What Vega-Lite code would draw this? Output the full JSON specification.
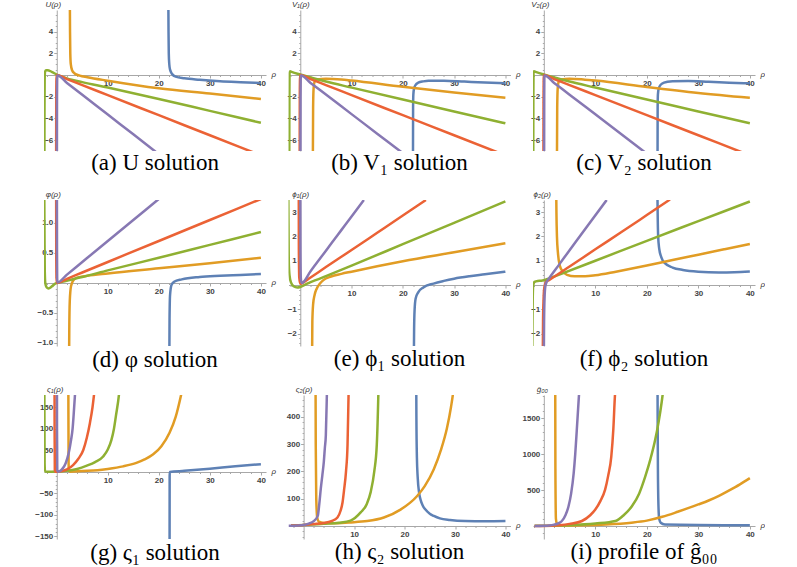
{
"$schema":"https://vega.github.io/schema/vega-lite/v6.json",
"background":"white",
"padding":{"left":34,"top":0,"right":0,"bottom":0},
"datasets":{
"a":[
{"s":"b","x":21.85,"y":8},{"s":"b","x":21.9,"y":4},{"s":"b","x":21.95,"y":2},{"s":"b","x":22.05,"y":1},{"s":"b","x":22.2,"y":0.5},{"s":"b","x":22.6,"y":0.1},{"s":"b","x":23.3,"y":-0.15},{"s":"b","x":25,"y":-0.3},{"s":"b","x":28,"y":-0.43},{"s":"b","x":32,"y":-0.56},{"s":"b","x":36,"y":-0.65},{"s":"b","x":40,"y":-0.73},
{"s":"o","x":2.55,"y":8},{"s":"o","x":2.6,"y":4},{"s":"o","x":2.65,"y":2},{"s":"o","x":2.75,"y":1},{"s":"o","x":3,"y":0.45},{"s":"o","x":3.5,"y":0.15},{"s":"o","x":4.5,"y":-0.05},{"s":"o","x":6,"y":-0.2},{"s":"o","x":10,"y":-0.52},{"s":"o","x":20,"y":-1.22},{"s":"o","x":30,"y":-1.7},{"s":"o","x":40,"y":-2.2},
{"s":"g","x":-2.42,"y":-8},{"s":"g","x":-2.4,"y":-3},{"s":"g","x":-2.37,"y":-0.5},{"s":"g","x":-2.3,"y":0.3},{"s":"g","x":-2.1,"y":0.45},{"s":"g","x":-1.8,"y":0.45},{"s":"g","x":-1,"y":0.3},{"s":"g","x":0,"y":0.05},{"s":"g","x":2,"y":-0.3},{"s":"g","x":5,"y":-0.65},{"s":"g","x":10,"y":-1.15},{"s":"g","x":20,"y":-2.2},{"s":"g","x":30,"y":-3.3},{"s":"g","x":40,"y":-4.4},
{"s":"r","x":-0.12,"y":-8},{"s":"r","x":-0.1,"y":-2},{"s":"r","x":-0.05,"y":-0.3},{"s":"r","x":0.05,"y":0},{"s":"r","x":2,"y":-0.37},{"s":"r","x":5,"y":-0.92},{"s":"r","x":10,"y":-1.85},{"s":"r","x":20,"y":-3.7},{"s":"r","x":30,"y":-5.55},{"s":"r","x":40,"y":-7.4},
{"s":"p","x":0.03,"y":-8},{"s":"p","x":0.05,"y":-2},{"s":"p","x":0.08,"y":-0.3},{"s":"p","x":0.15,"y":-0.05},{"s":"p","x":2,"y":-0.72},{"s":"p","x":5,"y":-1.81},{"s":"p","x":10,"y":-3.64},{"s":"p","x":15,"y":-5.46},{"s":"p","x":20,"y":-7.3}
],
"b":[
{"s":"b","x":21.98,"y":-8},{"s":"b","x":22.0,"y":-3},{"s":"b","x":22.05,"y":-1.8},{"s":"b","x":22.2,"y":-1.2},{"s":"b","x":22.5,"y":-0.9},{"s":"b","x":23,"y":-0.7},{"s":"b","x":24,"y":-0.58},{"s":"b","x":25,"y":-0.52},{"s":"b","x":28,"y":-0.52},{"s":"b","x":32,"y":-0.6},{"s":"b","x":36,"y":-0.68},{"s":"b","x":40,"y":-0.75},
{"s":"o","x":2.45,"y":-8},{"s":"o","x":2.5,"y":-3},{"s":"o","x":2.6,"y":-1.2},{"s":"o","x":2.8,"y":-0.6},{"s":"o","x":3.3,"y":-0.4},{"s":"o","x":5,"y":-0.33},{"s":"o","x":8,"y":-0.4},{"s":"o","x":10,"y":-0.5},{"s":"o","x":20,"y":-1.08},{"s":"o","x":30,"y":-1.6},{"s":"o","x":40,"y":-2.08},
{"s":"g","x":-2.15,"y":-8},{"s":"g","x":-2.13,"y":-2},{"s":"g","x":-2.1,"y":0.2},{"s":"g","x":-2.0,"y":0.35},{"s":"g","x":-1.7,"y":0.3},{"s":"g","x":0,"y":0.05},{"s":"g","x":5,"y":-0.6},{"s":"g","x":10,"y":-1.15},{"s":"g","x":20,"y":-2.25},{"s":"g","x":30,"y":-3.35},{"s":"g","x":40,"y":-4.45},
{"s":"r","x":-0.12,"y":-8},{"s":"r","x":-0.1,"y":-2},{"s":"r","x":-0.05,"y":-0.3},{"s":"r","x":0.05,"y":0},{"s":"r","x":2,"y":-0.37},{"s":"r","x":5,"y":-0.92},{"s":"r","x":10,"y":-1.85},{"s":"r","x":20,"y":-3.7},{"s":"r","x":30,"y":-5.55},{"s":"r","x":40,"y":-7.4},
{"s":"p","x":0.03,"y":-8},{"s":"p","x":0.05,"y":-2},{"s":"p","x":0.08,"y":-0.3},{"s":"p","x":0.15,"y":-0.05},{"s":"p","x":2,"y":-0.72},{"s":"p","x":5,"y":-1.8},{"s":"p","x":10,"y":-3.6},{"s":"p","x":15,"y":-5.4},{"s":"p","x":20,"y":-7.2}
],
"c":[
{"s":"b","x":22.08,"y":-8},{"s":"b","x":22.1,"y":-3},{"s":"b","x":22.15,"y":-1.8},{"s":"b","x":22.3,"y":-1.25},{"s":"b","x":22.6,"y":-0.95},{"s":"b","x":23,"y":-0.78},{"s":"b","x":24,"y":-0.62},{"s":"b","x":25,"y":-0.56},{"s":"b","x":28,"y":-0.55},{"s":"b","x":32,"y":-0.62},{"s":"b","x":36,"y":-0.7},{"s":"b","x":40,"y":-0.76},
{"s":"o","x":2.55,"y":-8},{"s":"o","x":2.6,"y":-3},{"s":"o","x":2.7,"y":-1.2},{"s":"o","x":2.9,"y":-0.6},{"s":"o","x":3.4,"y":-0.4},{"s":"o","x":5,"y":-0.33},{"s":"o","x":8,"y":-0.42},{"s":"o","x":10,"y":-0.5},{"s":"o","x":20,"y":-1.1},{"s":"o","x":30,"y":-1.65},{"s":"o","x":40,"y":-2.1},
{"s":"g","x":-2.05,"y":-8},{"s":"g","x":-2.03,"y":-2},{"s":"g","x":-2.0,"y":0.2},{"s":"g","x":-1.9,"y":0.35},{"s":"g","x":-1.6,"y":0.3},{"s":"g","x":0,"y":0.05},{"s":"g","x":5,"y":-0.6},{"s":"g","x":10,"y":-1.15},{"s":"g","x":20,"y":-2.25},{"s":"g","x":30,"y":-3.35},{"s":"g","x":40,"y":-4.45},
{"s":"r","x":-0.07,"y":-8},{"s":"r","x":-0.05,"y":-2},{"s":"r","x":-0.02,"y":-0.3},{"s":"r","x":0.05,"y":0},{"s":"r","x":2,"y":-0.37},{"s":"r","x":5,"y":-0.92},{"s":"r","x":10,"y":-1.85},{"s":"r","x":20,"y":-3.7},{"s":"r","x":30,"y":-5.55},{"s":"r","x":40,"y":-7.4},
{"s":"p","x":0.06,"y":-8},{"s":"p","x":0.08,"y":-2},{"s":"p","x":0.1,"y":-0.3},{"s":"p","x":0.15,"y":-0.05},{"s":"p","x":2,"y":-0.72},{"s":"p","x":5,"y":-1.81},{"s":"p","x":10,"y":-3.62},{"s":"p","x":15,"y":-5.43},{"s":"p","x":20,"y":-7.25}
],
"d":[
{"s":"b","x":22.05,"y":-1.5},{"s":"b","x":22.1,"y":-0.6},{"s":"b","x":22.2,"y":-0.2},{"s":"b","x":22.5,"y":-0.03},{"s":"b","x":23,"y":0.02},{"s":"b","x":24.5,"y":0.06},{"s":"b","x":28,"y":0.1},{"s":"b","x":32,"y":0.12},{"s":"b","x":36,"y":0.135},{"s":"b","x":40,"y":0.15},
{"s":"o","x":2.4,"y":-1.5},{"s":"o","x":2.45,"y":-0.8},{"s":"o","x":2.55,"y":-0.3},{"s":"o","x":2.8,"y":-0.05},{"s":"o","x":3.3,"y":0.05},{"s":"o","x":4,"y":0.09},{"s":"o","x":6,"y":0.12},{"s":"o","x":10,"y":0.16},{"s":"o","x":20,"y":0.245},{"s":"o","x":30,"y":0.33},{"s":"o","x":40,"y":0.42},
{"s":"g","x":-2.45,"y":1.6},{"s":"g","x":-2.4,"y":0.8},{"s":"g","x":-2.35,"y":0.2},{"s":"g","x":-2.25,"y":0},{"s":"g","x":-2.0,"y":-0.07},{"s":"g","x":-1.6,"y":-0.09},{"s":"g","x":-1.0,"y":-0.06},{"s":"g","x":-0.3,"y":-0.01},{"s":"g","x":0,"y":0},{"s":"g","x":1,"y":0.02},{"s":"g","x":5,"y":0.1},{"s":"g","x":10,"y":0.21},{"s":"g","x":20,"y":0.42},{"s":"g","x":30,"y":0.635},{"s":"g","x":40,"y":0.85},
{"s":"r","x":-0.12,"y":1.6},{"s":"r","x":-0.1,"y":0.5},{"s":"r","x":-0.05,"y":0.08},{"s":"r","x":0.05,"y":0},{"s":"r","x":2,"y":0.07},{"s":"r","x":5,"y":0.175},{"s":"r","x":10,"y":0.35},{"s":"r","x":20,"y":0.7},{"s":"r","x":30,"y":1.05},{"s":"r","x":40,"y":1.4},
{"s":"p","x":0.03,"y":1.6},{"s":"p","x":0.05,"y":0.5},{"s":"p","x":0.08,"y":0.08},{"s":"p","x":0.15,"y":0.01},{"s":"p","x":2,"y":0.14},{"s":"p","x":5,"y":0.35},{"s":"p","x":10,"y":0.7},{"s":"p","x":15,"y":1.05},{"s":"p","x":20,"y":1.4}
],
"e":[
{"s":"b","x":22.15,"y":-3},{"s":"b","x":22.2,"y":-1.8},{"s":"b","x":22.3,"y":-1.0},{"s":"b","x":22.5,"y":-0.55},{"s":"b","x":23,"y":-0.3},{"s":"b","x":24,"y":-0.1},{"s":"b","x":26,"y":0.06},{"s":"b","x":28,"y":0.17},{"s":"b","x":30,"y":0.26},{"s":"b","x":33,"y":0.36},{"s":"b","x":36,"y":0.44},{"s":"b","x":40,"y":0.55},
{"s":"o","x":2.3,"y":-3},{"s":"o","x":2.35,"y":-1.5},{"s":"o","x":2.5,"y":-0.8},{"s":"o","x":2.8,"y":-0.4},{"s":"o","x":3.2,"y":-0.15},{"s":"o","x":3.8,"y":0.05},{"s":"o","x":4.5,"y":0.2},{"s":"o","x":6,"y":0.35},{"s":"o","x":8,"y":0.46},{"s":"o","x":10,"y":0.55},{"s":"o","x":15,"y":0.77},{"s":"o","x":20,"y":0.98},{"s":"o","x":30,"y":1.35},{"s":"o","x":40,"y":1.72},
{"s":"g","x":-2.35,"y":4},{"s":"g","x":-2.3,"y":2.5},{"s":"g","x":-2.25,"y":1},{"s":"g","x":-2.1,"y":0.4},{"s":"g","x":-1.8,"y":0.1},{"s":"g","x":-1.3,"y":-0.05},{"s":"g","x":-0.6,"y":-0.1},{"s":"g","x":0,"y":-0.08},{"s":"g","x":1,"y":0.02},{"s":"g","x":2,"y":0.12},{"s":"g","x":3,"y":0.2},{"s":"g","x":5,"y":0.37},{"s":"g","x":10,"y":0.8},{"s":"g","x":20,"y":1.68},{"s":"g","x":30,"y":2.56},{"s":"g","x":40,"y":3.44},
{"s":"r","x":-0.3,"y":4},{"s":"r","x":-0.28,"y":1.5},{"s":"r","x":-0.2,"y":0.3},{"s":"r","x":0,"y":0.05},{"s":"r","x":0.3,"y":0.07},{"s":"r","x":2,"y":0.31},{"s":"r","x":5,"y":0.74},{"s":"r","x":10,"y":1.44},{"s":"r","x":15,"y":2.15},{"s":"r","x":20,"y":2.86},{"s":"r","x":24.5,"y":3.5},
{"s":"p","x":0,"y":4},{"s":"p","x":0.03,"y":1.5},{"s":"p","x":0.1,"y":0.3},{"s":"p","x":0.25,"y":0.08},{"s":"p","x":2,"y":0.57},{"s":"p","x":4,"y":1.13},{"s":"p","x":6,"y":1.7},{"s":"p","x":8,"y":2.26},{"s":"p","x":10,"y":2.82},{"s":"p","x":12.4,"y":3.5}
],
"f":[
{"s":"b","x":22.05,"y":4},{"s":"b","x":22.1,"y":3},{"s":"b","x":22.2,"y":2},{"s":"b","x":22.4,"y":1.5},{"s":"b","x":22.8,"y":1.15},{"s":"b","x":23.5,"y":0.9},{"s":"b","x":25,"y":0.72},{"s":"b","x":27,"y":0.62},{"s":"b","x":30,"y":0.55},{"s":"b","x":34,"y":0.52},{"s":"b","x":37,"y":0.53},{"s":"b","x":40,"y":0.56},
{"s":"o","x":2.4,"y":4},{"s":"o","x":2.45,"y":3},{"s":"o","x":2.55,"y":2},{"s":"o","x":2.75,"y":1.3},{"s":"o","x":3.1,"y":0.8},{"s":"o","x":3.7,"y":0.55},{"s":"o","x":4.5,"y":0.42},{"s":"o","x":6,"y":0.36},{"s":"o","x":8,"y":0.36},{"s":"o","x":10,"y":0.4},{"s":"o","x":14,"y":0.55},{"s":"o","x":20,"y":0.8},{"s":"o","x":25,"y":1.03},{"s":"o","x":30,"y":1.25},{"s":"o","x":35,"y":1.47},{"s":"o","x":40,"y":1.69},
{"s":"g","x":-2.25,"y":-3},{"s":"g","x":-2.2,"y":-1.5},{"s":"g","x":-2.15,"y":-0.5},{"s":"g","x":-2.05,"y":0},{"s":"g","x":-1.8,"y":0.13},{"s":"g","x":-1.2,"y":0.17},{"s":"g","x":-0.5,"y":0.18},{"s":"g","x":0,"y":0.2},{"s":"g","x":1,"y":0.27},{"s":"g","x":3,"y":0.43},{"s":"g","x":10,"y":1.0},{"s":"g","x":20,"y":1.82},{"s":"g","x":30,"y":2.63},{"s":"g","x":40,"y":3.44},
{"s":"r","x":-0.2,"y":-3},{"s":"r","x":-0.15,"y":-1.5},{"s":"r","x":-0.05,"y":-0.6},{"s":"r","x":0.1,"y":-0.1},{"s":"r","x":0.4,"y":0.12},{"s":"r","x":1,"y":0.2},{"s":"r","x":5,"y":0.76},{"s":"r","x":10,"y":1.47},{"s":"r","x":15,"y":2.17},{"s":"r","x":20,"y":2.88},{"s":"r","x":24.5,"y":3.52},
{"s":"p","x":0,"y":-3},{"s":"p","x":0.05,"y":-1.5},{"s":"p","x":0.15,"y":-0.5},{"s":"p","x":0.3,"y":-0.05},{"s":"p","x":0.6,"y":0.15},{"s":"p","x":1,"y":0.27},{"s":"p","x":3,"y":0.85},{"s":"p","x":5,"y":1.43},{"s":"p","x":8,"y":2.3},{"s":"p","x":12.2,"y":3.5}
],
"g":[
{"s":"b","x":22.1,"y":-250},{"s":"b","x":22.12,"y":-10},{"s":"b","x":22.15,"y":0},{"s":"b","x":25,"y":2.5},{"s":"b","x":30,"y":7.5},{"s":"b","x":35,"y":13},{"s":"b","x":40,"y":18},
{"s":"o","x":2.25,"y":400},{"s":"o","x":2.28,"y":150},{"s":"o","x":2.32,"y":20},{"s":"o","x":2.4,"y":2},{"s":"o","x":2.6,"y":0.5},{"s":"o","x":5,"y":2},{"s":"o","x":8,"y":4},{"s":"o","x":10,"y":7},{"s":"o","x":13,"y":13},{"s":"o","x":15.6,"y":21},{"s":"o","x":17.2,"y":29},{"s":"o","x":18.9,"y":41},{"s":"o","x":20.5,"y":60},{"s":"o","x":22.1,"y":91},{"s":"o","x":23.3,"y":128},{"s":"o","x":24.4,"y":181},{"s":"o","x":25,"y":215},
{"s":"g","x":-2.45,"y":400},{"s":"g","x":-2.42,"y":150},{"s":"g","x":-2.38,"y":20},{"s":"g","x":-2.3,"y":1},{"s":"g","x":-1,"y":0.5},{"s":"g","x":0,"y":0.8},{"s":"g","x":2,"y":2.5},{"s":"g","x":4,"y":7},{"s":"g","x":5.9,"y":14.7},{"s":"g","x":7.5,"y":23},{"s":"g","x":9.1,"y":36},{"s":"g","x":10,"y":52},{"s":"g","x":10.7,"y":74},{"s":"g","x":11.2,"y":100},{"s":"g","x":11.6,"y":131},{"s":"g","x":12.2,"y":181},{"s":"g","x":12.5,"y":220},
{"s":"r","x":-0.45,"y":400},{"s":"r","x":-0.42,"y":100},{"s":"r","x":-0.38,"y":5},{"s":"r","x":-0.3,"y":0.5},{"s":"r","x":0,"y":0.3},{"s":"r","x":1,"y":2},{"s":"r","x":2,"y":6},{"s":"r","x":3.2,"y":16},{"s":"r","x":4.2,"y":30},{"s":"r","x":5.2,"y":51},{"s":"r","x":5.9,"y":80},{"s":"r","x":6.5,"y":114},{"s":"r","x":7,"y":150},{"s":"r","x":7.4,"y":190},
{"s":"p","x":0.02,"y":400},{"s":"p","x":0.05,"y":100},{"s":"p","x":0.1,"y":5},{"s":"p","x":0.2,"y":0.5},{"s":"p","x":0.6,"y":2},{"s":"p","x":1,"y":6},{"s":"p","x":1.5,"y":14},{"s":"p","x":1.8,"y":22},{"s":"p","x":2.3,"y":42},{"s":"p","x":2.8,"y":74},{"s":"p","x":3.1,"y":100},{"s":"p","x":3.3,"y":131},{"s":"p","x":3.6,"y":185}
],
"h":[
{"s":"b","x":22.3,"y":600},{"s":"b","x":22.35,"y":400},{"s":"b","x":22.45,"y":250},{"s":"b","x":22.6,"y":180},{"s":"b","x":22.9,"y":120},{"s":"b","x":23.2,"y":95},{"s":"b","x":23.6,"y":75},{"s":"b","x":24.1,"y":61},{"s":"b","x":25,"y":45},{"s":"b","x":25.8,"y":37},{"s":"b","x":27,"y":28},{"s":"b","x":29,"y":22},{"s":"b","x":32,"y":18},{"s":"b","x":36,"y":17},{"s":"b","x":40,"y":18},
{"s":"o","x":2.35,"y":600},{"s":"o","x":2.4,"y":300},{"s":"o","x":2.5,"y":100},{"s":"o","x":2.7,"y":30},{"s":"o","x":3,"y":16},{"s":"o","x":4,"y":11},{"s":"o","x":6,"y":10},{"s":"o","x":9,"y":13},{"s":"o","x":12.6,"y":18},{"s":"o","x":15.9,"y":31},{"s":"o","x":19.2,"y":60},{"s":"o","x":22.5,"y":110},{"s":"o","x":24,"y":146},{"s":"o","x":25.8,"y":208},{"s":"o","x":27.2,"y":278},{"s":"o","x":28.4,"y":358},{"s":"o","x":29.2,"y":435},{"s":"o","x":29.8,"y":515},{"s":"o","x":30.2,"y":600},
{"s":"g","x":-2.5,"y":3},{"s":"g","x":0,"y":4},{"s":"g","x":4,"y":8},{"s":"g","x":7,"y":12},{"s":"g","x":9.3,"y":20},{"s":"g","x":11.3,"y":50},{"s":"g","x":12.5,"y":80},{"s":"g","x":13.3,"y":125},{"s":"g","x":14,"y":200},{"s":"g","x":14.5,"y":298},{"s":"g","x":14.8,"y":477},{"s":"g","x":14.9,"y":560},
{"s":"r","x":-2.5,"y":2},{"s":"r","x":0,"y":4},{"s":"r","x":2,"y":7},{"s":"r","x":4,"y":11},{"s":"r","x":5.5,"y":18},{"s":"r","x":6.7,"y":31},{"s":"r","x":7.3,"y":55},{"s":"r","x":7.7,"y":85},{"s":"r","x":8.0,"y":130},{"s":"r","x":8.4,"y":200},{"s":"r","x":8.7,"y":298},{"s":"r","x":8.9,"y":477},{"s":"r","x":9.0,"y":560},
{"s":"p","x":-3,"y":1},{"s":"p","x":-1,"y":2},{"s":"p","x":0,"y":4},{"s":"p","x":1,"y":9},{"s":"p","x":2,"y":18},{"s":"p","x":2.8,"y":37},{"s":"p","x":3.1,"y":80},{"s":"p","x":3.4,"y":137},{"s":"p","x":3.7,"y":185},{"s":"p","x":4.0,"y":235},{"s":"p","x":4.2,"y":285},{"s":"p","x":4.4,"y":333},{"s":"p","x":4.6,"y":477},{"s":"p","x":4.7,"y":560}
],
"i":[
{"s":"b","x":22.05,"y":2500},{"s":"b","x":22.1,"y":1500},{"s":"b","x":22.15,"y":800},{"s":"b","x":22.25,"y":300},{"s":"b","x":22.4,"y":100},{"s":"b","x":22.7,"y":45},{"s":"b","x":23.5,"y":20},{"s":"b","x":30,"y":13},{"s":"b","x":40,"y":12},
{"s":"o","x":2.2,"y":2500},{"s":"o","x":2.25,"y":800},{"s":"o","x":2.35,"y":100},{"s":"o","x":2.6,"y":20},{"s":"o","x":4,"y":8},{"s":"o","x":8,"y":12},{"s":"o","x":12,"y":22},{"s":"o","x":17,"y":47},{"s":"o","x":20,"y":75},{"s":"o","x":23,"y":128},{"s":"o","x":26,"y":198},{"s":"o","x":28,"y":248},{"s":"o","x":30,"y":300},{"s":"o","x":32,"y":355},{"s":"o","x":34,"y":420},{"s":"o","x":36,"y":495},{"s":"o","x":38,"y":575},{"s":"o","x":40,"y":665},
{"s":"g","x":-1.8,"y":3},{"s":"g","x":0,"y":3},{"s":"g","x":5,"y":12},{"s":"g","x":10,"y":35},{"s":"g","x":13.9,"y":70},{"s":"g","x":15.5,"y":150},{"s":"g","x":17.1,"y":275},{"s":"g","x":18.5,"y":450},{"s":"g","x":19.7,"y":690},{"s":"g","x":20.7,"y":930},{"s":"g","x":21.6,"y":1190},{"s":"g","x":22.3,"y":1450},{"s":"g","x":22.9,"y":1730},{"s":"g","x":23.3,"y":1950},
{"s":"r","x":-1.8,"y":2},{"s":"r","x":0,"y":2},{"s":"r","x":3,"y":12},{"s":"r","x":5,"y":30},{"s":"r","x":7.4,"y":70},{"s":"r","x":9,"y":150},{"s":"r","x":10,"y":230},{"s":"r","x":11,"y":350},{"s":"r","x":11.9,"y":505},{"s":"r","x":12.5,"y":700},{"s":"r","x":13.1,"y":965},{"s":"r","x":13.5,"y":1350},{"s":"r","x":13.8,"y":1800},{"s":"r","x":14,"y":2000},
{"s":"p","x":-1.8,"y":0},{"s":"p","x":0,"y":3},{"s":"p","x":1,"y":8},{"s":"p","x":2,"y":20},{"s":"p","x":3,"y":45},{"s":"p","x":3.5,"y":70},{"s":"p","x":4.2,"y":150},{"s":"p","x":4.8,"y":275},{"s":"p","x":5.3,"y":450},{"s":"p","x":5.8,"y":735},{"s":"p","x":6.1,"y":1000},{"s":"p","x":6.4,"y":1330},{"s":"p","x":6.8,"y":1790},{"s":"p","x":7.0,"y":2000}
]
},
"columns":3,
"spacing":{"row":49,"column":22.5},
"bounds":"flush",
"concat":[
{"width":222,"height":141,"data":{"name":"a"},"resolve":{"axis":{"x":"independent","y":"independent"}},"title":{"text":"(a) U solution","offset":1},
"layer":[
{"mark":{"type":"point","opacity":0,"clip":true},"encoding":{"x":{"field":"x","type":"quantitative","scale":{"domain":[-2.5,41],"nice":false,"zero":false},"axis":{"orient":"bottom","offset":-76,"values":[-2,2,4,6,8,12,14,16,18,22,24,26,28,32,34,36,38],"labels":false,"domain":false,"title":null,"tickSize":1.5}},
"y":{"field":"y","type":"quantitative","scale":{"domain":[-7.0,6.0],"nice":false,"zero":false},"axis":{"orient":"left","offset":-12.76,"values":[-6.5,-5.5,-5,-4.5,-3.5,-3,-2.5,-1.5,-1,-0.5,0.5,1,1.5,2.5,3,3.5,4.5,5,5.5],"labels":false,"domain":false,"title":null,"tickSize":1.5}}}},
{"mark":{"type":"line","clip":true,"strokeWidth":2.5,"interpolate":"monotone"},
"encoding":{"x":{"field":"x","type":"quantitative","scale":{"domain":[-2.5,41],"nice":false,"zero":false},"axis":{"orient":"bottom","values":[10,20,30,40],"title":"ρ","offset":-76,"titleX":227,"titleY":-1}},
"y":{"field":"y","type":"quantitative","scale":{"domain":[-7.0,6.0],"nice":false,"zero":false},"axis":{"orient":"left","values":[-6,-4,-2,2,4],"title":"U(ρ)","offset":-12.76,"titleX":-4,"titleY":-6}},
"color":{"field":"s","type":"nominal","scale":{"domain":["b","o","g","r","p"],"range":["#5E81B5","#E19C24","#8FB032","#EB6235","#8778B3"]},"legend":null}}}
]},
{"width":222,"height":141,"data":{"name":"b"},"resolve":{"axis":{"x":"independent","y":"independent"}},"title":{"text":"(b) V₁ solution","offset":1},
"layer":[
{"mark":{"type":"point","opacity":0,"clip":true},"encoding":{"x":{"field":"x","type":"quantitative","scale":{"domain":[-2.3,41],"nice":false,"zero":false},"axis":{"orient":"bottom","offset":-76,"values":[-2,2,4,6,8,12,14,16,18,22,24,26,28,32,34,36,38],"labels":false,"domain":false,"title":null,"tickSize":1.5}},
"y":{"field":"y","type":"quantitative","scale":{"domain":[-7.0,6.0],"nice":false,"zero":false},"axis":{"orient":"left","offset":-11.79,"values":[-6.5,-5.5,-5,-4.5,-3.5,-3,-2.5,-1.5,-1,-0.5,0.5,1,1.5,2.5,3,3.5,4.5,5,5.5],"labels":false,"domain":false,"title":null,"tickSize":1.5}}}},
{"mark":{"type":"line","clip":true,"strokeWidth":2.5,"interpolate":"monotone"},
"encoding":{"x":{"field":"x","type":"quantitative","scale":{"domain":[-2.3,41],"nice":false,"zero":false},"axis":{"orient":"bottom","values":[10,20,30,40],"title":"ρ","offset":-76,"titleX":227,"titleY":-1}},
"y":{"field":"y","type":"quantitative","scale":{"domain":[-7.0,6.0],"nice":false,"zero":false},"axis":{"orient":"left","values":[-6,-4,-2,2,4],"title":"V₁(ρ)","offset":-11.79,"titleX":0,"titleY":-6}},
"color":{"field":"s","type":"nominal","scale":{"domain":["b","o","g","r","p"],"range":["#5E81B5","#E19C24","#8FB032","#EB6235","#8778B3"]},"legend":null}}}
]},
{"width":222,"height":141,"data":{"name":"c"},"resolve":{"axis":{"x":"independent","y":"independent"}},"title":{"text":"(c) V₂ solution","offset":1},
"layer":[
{"mark":{"type":"point","opacity":0,"clip":true},"encoding":{"x":{"field":"x","type":"quantitative","scale":{"domain":[-2.1,41],"nice":false,"zero":false},"axis":{"orient":"bottom","offset":-76,"values":[-2,2,4,6,8,12,14,16,18,22,24,26,28,32,34,36,38],"labels":false,"domain":false,"title":null,"tickSize":1.5}},
"y":{"field":"y","type":"quantitative","scale":{"domain":[-7.0,6.0],"nice":false,"zero":false},"axis":{"orient":"left","offset":-10.82,"values":[-6.5,-5.5,-5,-4.5,-3.5,-3,-2.5,-1.5,-1,-0.5,0.5,1,1.5,2.5,3,3.5,4.5,5,5.5],"labels":false,"domain":false,"title":null,"tickSize":1.5}}}},
{"mark":{"type":"line","clip":true,"strokeWidth":2.5,"interpolate":"monotone"},
"encoding":{"x":{"field":"x","type":"quantitative","scale":{"domain":[-2.1,41],"nice":false,"zero":false},"axis":{"orient":"bottom","values":[10,20,30,40],"title":"ρ","offset":-76,"titleX":227,"titleY":-1}},
"y":{"field":"y","type":"quantitative","scale":{"domain":[-7.0,6.0],"nice":false,"zero":false},"axis":{"orient":"left","values":[-6,-4,-2,2,4],"title":"V₂(ρ)","offset":-10.82,"titleX":-4,"titleY":-6}},
"color":{"field":"s","type":"nominal","scale":{"domain":["b","o","g","r","p"],"range":["#5E81B5","#E19C24","#8FB032","#EB6235","#8778B3"]},"legend":null}}}
]},
{"width":222,"height":146,"data":{"name":"d"},"resolve":{"axis":{"x":"independent","y":"independent"}},"title":{"text":"(d) φ solution","offset":2},
"layer":[
{"mark":{"type":"point","opacity":0,"clip":true},"encoding":{"x":{"field":"x","type":"quantitative","scale":{"domain":[-2.5,41],"nice":false,"zero":false},"axis":{"orient":"bottom","offset":-63,"values":[-2,2,4,6,8,12,14,16,18,22,24,26,28,32,34,36,38],"labels":false,"domain":false,"title":null,"tickSize":1.5}},
"y":{"field":"y","type":"quantitative","scale":{"domain":[-1.05,1.383],"nice":false,"zero":false},"axis":{"orient":"left","offset":-12.76,"values":[-0.9,-0.8,-0.7,-0.6,-0.4,-0.3,-0.2,-0.1,0.1,0.2,0.3,0.4,0.6,0.7,0.8,0.9,1.1,1.2,1.3],"labels":false,"domain":false,"title":null,"tickSize":1.5}}}},
{"mark":{"type":"line","clip":true,"strokeWidth":2.5,"interpolate":"monotone"},
"encoding":{"x":{"field":"x","type":"quantitative","scale":{"domain":[-2.5,41],"nice":false,"zero":false},"axis":{"orient":"bottom","values":[10,20,30,40],"title":"ρ","offset":-63,"titleX":227,"titleY":-1}},
"y":{"field":"y","type":"quantitative","scale":{"domain":[-1.05,1.383],"nice":false,"zero":false},"axis":{"orient":"left","values":[-1,-0.5,0.5,1],"format":".1f","title":"φ(ρ)","offset":-12.76,"titleX":-4,"titleY":-6}},
"color":{"field":"s","type":"nominal","scale":{"domain":["b","o","g","r","p"],"range":["#5E81B5","#E19C24","#8FB032","#EB6235","#8778B3"]},"legend":null}}}
]},
{"width":222,"height":146,"data":{"name":"e"},"resolve":{"axis":{"x":"independent","y":"independent"}},"title":{"text":"(e) ϕ₁ solution","offset":2},
"layer":[
{"mark":{"type":"point","opacity":0,"clip":true},"encoding":{"x":{"field":"x","type":"quantitative","scale":{"domain":[-2.3,41],"nice":false,"zero":false},"axis":{"orient":"bottom","offset":-61,"values":[-2,2,4,6,8,12,14,16,18,22,24,26,28,32,34,36,38],"labels":false,"domain":false,"title":null,"tickSize":1.5}},
"y":{"field":"y","type":"quantitative","scale":{"domain":[-2.51,3.5],"nice":false,"zero":false},"axis":{"orient":"left","offset":-11.79,"values":[-2.4,-2.2,-1.8,-1.6,-1.4,-1.2,-0.8,-0.6,-0.4,-0.2,0.2,0.4,0.6,0.8,1.2,1.4,1.6,1.8,2.2,2.4,2.6,2.8,3.2,3.4],"labels":false,"domain":false,"title":null,"tickSize":1.5}}}},
{"mark":{"type":"line","clip":true,"strokeWidth":2.5,"interpolate":"monotone"},
"encoding":{"x":{"field":"x","type":"quantitative","scale":{"domain":[-2.3,41],"nice":false,"zero":false},"axis":{"orient":"bottom","values":[10,20,30,40],"title":"ρ","offset":-61,"titleX":227,"titleY":-1}},
"y":{"field":"y","type":"quantitative","scale":{"domain":[-2.51,3.5],"nice":false,"zero":false},"axis":{"orient":"left","values":[-2,-1,1,2,3],"title":"ϕ₁(ρ)","offset":-11.79,"titleX":0,"titleY":-6}},
"color":{"field":"s","type":"nominal","scale":{"domain":["b","o","g","r","p"],"range":["#5E81B5","#E19C24","#8FB032","#EB6235","#8778B3"]},"legend":null}}}
]},
{"width":222,"height":146,"data":{"name":"f"},"resolve":{"axis":{"x":"independent","y":"independent"}},"title":{"text":"(f) ϕ₂ solution","offset":2},
"layer":[
{"mark":{"type":"point","opacity":0,"clip":true},"encoding":{"x":{"field":"x","type":"quantitative","scale":{"domain":[-2.1,41],"nice":false,"zero":false},"axis":{"orient":"bottom","offset":-61,"values":[-2,2,4,6,8,12,14,16,18,22,24,26,28,32,34,36,38],"labels":false,"domain":false,"title":null,"tickSize":1.5}},
"y":{"field":"y","type":"quantitative","scale":{"domain":[-2.51,3.5],"nice":false,"zero":false},"axis":{"orient":"left","offset":-10.82,"values":[-2.4,-2.2,-1.8,-1.6,-1.4,-1.2,-0.8,-0.6,-0.4,-0.2,0.2,0.4,0.6,0.8,1.2,1.4,1.6,1.8,2.2,2.4,2.6,2.8,3.2,3.4],"labels":false,"domain":false,"title":null,"tickSize":1.5}}}},
{"mark":{"type":"line","clip":true,"strokeWidth":2.5,"interpolate":"monotone"},
"encoding":{"x":{"field":"x","type":"quantitative","scale":{"domain":[-2.1,41],"nice":false,"zero":false},"axis":{"orient":"bottom","values":[10,20,30,40],"title":"ρ","offset":-61,"titleX":227,"titleY":-1}},
"y":{"field":"y","type":"quantitative","scale":{"domain":[-2.51,3.5],"nice":false,"zero":false},"axis":{"orient":"left","values":[-2,-1,1,2,3],"title":"ϕ₂(ρ)","offset":-10.82,"titleX":-2,"titleY":-6}},
"color":{"field":"s","type":"nominal","scale":{"domain":["b","o","g","r","p"],"range":["#5E81B5","#E19C24","#8FB032","#EB6235","#8778B3"]},"legend":null}}}
]},
{"width":222,"height":144,"data":{"name":"g"},"resolve":{"axis":{"x":"independent","y":"independent"}},"title":{"text":"(g) ς₁ solution","offset":2},
"layer":[
{"mark":{"type":"point","opacity":0,"clip":true},"encoding":{"x":{"field":"x","type":"quantitative","scale":{"domain":[-2.5,41],"nice":false,"zero":false},"axis":{"orient":"bottom","offset":-67,"values":[-2,2,4,6,8,12,14,16,18,22,24,26,28,32,34,36,38],"labels":false,"domain":false,"title":null,"tickSize":1.5}},
"y":{"field":"y","type":"quantitative","scale":{"domain":[-156,179],"nice":false,"zero":false},"axis":{"orient":"left","offset":-12.76,"values":[-140,-130,-120,-110,-90,-80,-70,-60,-40,-30,-20,-10,10,20,30,40,60,70,80,90,110,120,130,140,160,170],"labels":false,"domain":false,"title":null,"tickSize":1.5}}}},
{"mark":{"type":"line","clip":true,"strokeWidth":2.5,"interpolate":"monotone"},
"encoding":{"x":{"field":"x","type":"quantitative","scale":{"domain":[-2.5,41],"nice":false,"zero":false},"axis":{"orient":"bottom","values":[10,20,30,40],"title":"ρ","offset":-67,"titleX":227,"titleY":-1}},
"y":{"field":"y","type":"quantitative","scale":{"domain":[-156,179],"nice":false,"zero":false},"axis":{"orient":"left","values":[-150,-100,-50,50,100,150],"title":"ς₁(ρ)","offset":-12.76,"titleX":-2,"titleY":-6}},
"color":{"field":"s","type":"nominal","scale":{"domain":["b","o","g","r","p"],"range":["#5E81B5","#E19C24","#8FB032","#EB6235","#8778B3"]},"legend":null}}}
]},
{"width":222,"height":144,"data":{"name":"h"},"resolve":{"axis":{"x":"independent","y":"independent"}},"title":{"text":"(h) ς₂ solution","offset":2},
"layer":[
{"mark":{"type":"point","opacity":0,"clip":true},"encoding":{"x":{"field":"x","type":"quantitative","scale":{"domain":[-3,41],"nice":false,"zero":false},"axis":{"orient":"bottom","offset":-13,"values":[-2,2,4,6,8,12,14,16,18,22,24,26,28,32,34,36,38],"labels":false,"domain":false,"title":null,"tickSize":1.5}},
"y":{"field":"y","type":"quantitative","scale":{"domain":[-47.6,480],"nice":false,"zero":false},"axis":{"orient":"left","offset":-15.1,"values":[-40,-20,20,40,60,80,120,140,160,180,220,240,260,280,320,340,360,380,420,440,460],"labels":false,"domain":false,"title":null,"tickSize":1.5}}}},
{"mark":{"type":"line","clip":true,"strokeWidth":2.5,"interpolate":"monotone"},
"encoding":{"x":{"field":"x","type":"quantitative","scale":{"domain":[-3,41],"nice":false,"zero":false},"axis":{"orient":"bottom","values":[10,20,30,40],"title":"ρ","offset":-13,"titleX":227,"titleY":-1}},
"y":{"field":"y","type":"quantitative","scale":{"domain":[-47.6,480],"nice":false,"zero":false},"axis":{"orient":"left","values":[100,200,300,400],"title":"ς₂(ρ)","offset":-15.1,"titleX":0,"titleY":-6}},
"color":{"field":"s","type":"nominal","scale":{"domain":["b","o","g","r","p"],"range":["#5E81B5","#E19C24","#8FB032","#EB6235","#8778B3"]},"legend":null}}}
]},
{"width":222,"height":144,"data":{"name":"i"},"resolve":{"axis":{"x":"independent","y":"independent"}},"title":{"text":"(i) profile of ĝ₀₀","offset":2},
"layer":[
{"mark":{"type":"point","opacity":0,"clip":true},"encoding":{"x":{"field":"x","type":"quantitative","scale":{"domain":[-2.1,41],"nice":false,"zero":false},"axis":{"orient":"bottom","offset":-13,"values":[-2,2,4,6,8,12,14,16,18,22,24,26,28,32,34,36,38],"labels":false,"domain":false,"title":null,"tickSize":1.5}},
"y":{"field":"y","type":"quantitative","scale":{"domain":[-180,1820],"nice":false,"zero":false},"axis":{"orient":"left","offset":-10.82,"values":[-100,100,200,300,400,600,700,800,900,1100,1200,1300,1400,1600,1700,1800],"labels":false,"domain":false,"title":null,"tickSize":1.5}}}},
{"mark":{"type":"line","clip":true,"strokeWidth":2.5,"interpolate":"monotone"},
"encoding":{"x":{"field":"x","type":"quantitative","scale":{"domain":[-2.1,41],"nice":false,"zero":false},"axis":{"orient":"bottom","values":[10,20,30,40],"title":"ρ","offset":-13,"titleX":227,"titleY":-1}},
"y":{"field":"y","type":"quantitative","scale":{"domain":[-180,1820],"nice":false,"zero":false},"axis":{"orient":"left","values":[500,1000,1500],"format":"d","title":"ĝ₀₀","offset":-10.82,"titleX":-2,"titleY":-6}},
"color":{"field":"s","type":"nominal","scale":{"domain":["b","o","g","r","p"],"range":["#5E81B5","#E19C24","#8FB032","#EB6235","#8778B3"]},"legend":null}}}
]}
],
"config":{
"view":{"stroke":null},
"axis":{"domainColor":"#a8a8a8","tickColor":"#a8a8a8","tickSize":3,"labelFont":"Liberation Sans","labelFontSize":8,"labelFontWeight":"bold","labelColor":"#444444","labelPadding":1,"labelFlush":false,"grid":false,"titleFont":"Liberation Sans","titleFontSize":8,"titleFontWeight":"normal","titleFontStyle":"italic","titleColor":"#333333","titleAngle":0,"titleBaseline":"middle","titleAlign":"center"},
"axisX":{"titleAlign":"left"},
"title":{"orient":"bottom","font":"Liberation Serif","fontSize":23,"fontWeight":"normal","color":"#000000","anchor":"middle","baseline":"top","frame":"group"}
}
}
